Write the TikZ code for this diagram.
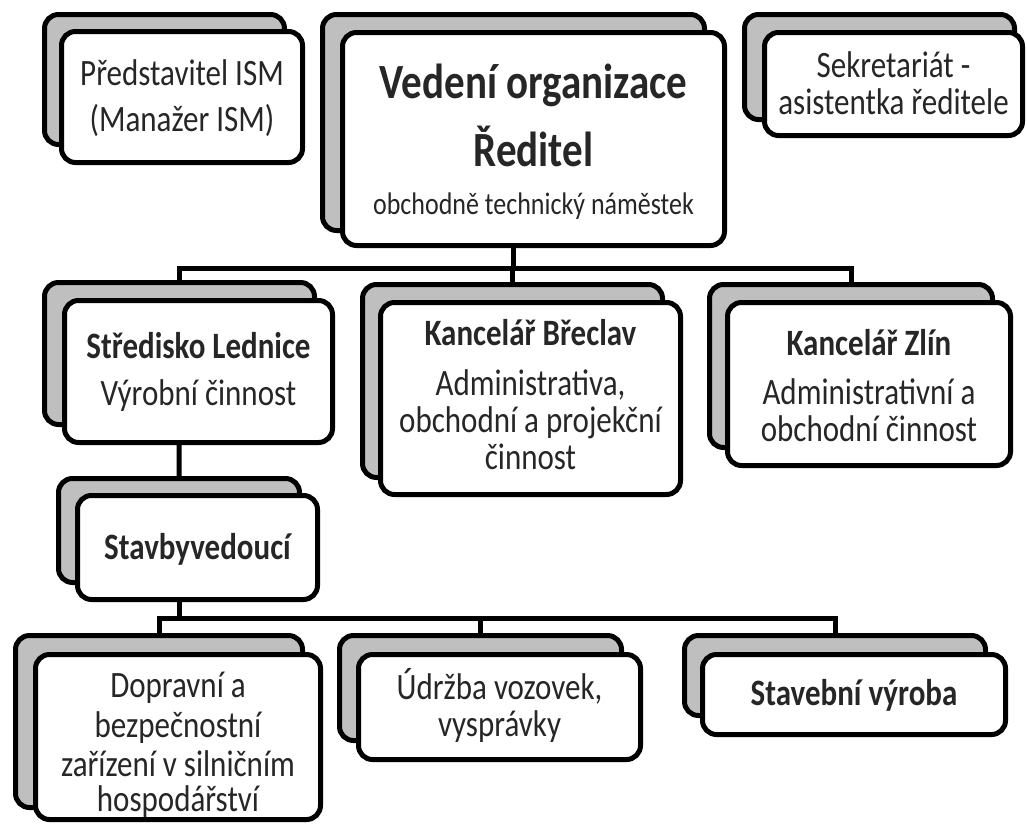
\documentclass[tikz,border=0pt]{standalone}
\usepackage{fontspec}
\usepackage{graphicx}
\setmainfont{Carlito}
\usetikzlibrary{fit,calc}
\definecolor{shadowgray}{HTML}{BFBFBF}
\definecolor{ink}{HTML}{262626}
\pgfdeclarelayer{bg}
\pgfsetlayers{bg,main}
\newcommand\vst[1]{\scalebox{1}[1.2]{#1}}
\begin{document}
\begin{tikzpicture}[x=1pt,y=-1pt,
  shad/.style={draw=black,line width=5pt,rounded corners=14pt,fill=shadowgray,inner sep=0pt},
  front/.style={draw=black,line width=5pt,rounded corners=14pt,fill=white,inner sep=0pt},
  ln/.style={anchor=base,text=ink,inner sep=0pt,font=\fontsize{31}{37}\selectfont},
  lnb/.style={ln,font=\fontsize{31}{37}\selectfont\bfseries},
  lnbig/.style={ln,font=\fontsize{41}{48}\selectfont\bfseries},
  lnsmall/.style={ln,font=\fontsize{26}{31}\selectfont},
  conn/.style={draw=black,line width=5pt}]
\useasboundingbox (0,0) rectangle (1027,825);

% Predstavitel ISM
\node[shad,fit={(44.5,14.5) (284.5,144.5)}] (ispS) {};
\node[front,fit={(61.5,31.5) (302.5,162.5)}] (ispF) {};
\node[ln] (ispT1) at (ispF.center |- 0,85) {\vst{Představitel ISM}};
\node[ln] (ispT2) at (ispF.center |- 0,131) {\vst{(Manažer ISM)}};

% Vedeni organizace
\node[shad,fit={(322.5,14.5) (704.5,230.5)}] (vedS) {};
\node[front,fit={(342.5,32.5) (724.5,245.5)}] (vedF) {};
\node[lnbig] (vedT1) at (vedF.center |- 0,98) {\vst{Vedení organizace}};
\node[lnbig] (vedT2) at (vedF.center |- 0,166) {\vst{Ředitel}};
\node[lnsmall] (vedT3) at (vedF.center |- 0,214) {\vst{obchodně technický náměstek}};

% Sekretariat
\node[shad,fit={(744.5,14.5) (1014.5,119.5)}] (sekS) {};
\node[front,fit={(764.5,32.5) (1022.5,135.5)}] (sekF) {};
\node[ln] (sekT1) at (sekF.center |- 0,77) {\vst{Sekretariát -}};
\node[ln] (sekT2) at (sekF.center |- 0,114) {\vst{asistentka ředitele}};

% Stredisko Lednice
\node[shad,fit={(44.5,282.5) (314.5,424.5)}] (ledS) {};
\node[front,fit={(64.5,300.5) (332.5,442.5)}] (ledF) {};
\node[lnb] (ledT1) at (ledF.center |- 0,358) {\vst{Středisko Lednice}};
\node[ln] (ledT2) at (ledF.center |- 0,405) {\vst{Výrobní činnost}};

% Kancelar Breclav
\node[shad,fit={(362.5,284.5) (662.5,477.5)}] (brcS) {};
\node[front,fit={(380.5,302.5) (680.5,494.5)}] (brcF) {};
\node[lnb] (brcT1) at (brcF.center |- 0,345) {\vst{Kancelář Břeclav}};
\node[ln] (brcT2) at (brcF.center |- 0,395) {\vst{Administrativa,}};
\node[ln] (brcT3) at (brcF.center |- 0,432) {\vst{obchodní a projekční}};
\node[ln] (brcT4) at (brcF.center |- 0,469) {\vst{činnost}};

% Kancelar Zlin
\node[shad,fit={(709.5,284.5) (992.5,447.5)}] (zliS) {};
\node[front,fit={(727.5,302.5) (1010.5,465.5)}] (zliF) {};
\node[lnb] (zliT1) at (zliF.center |- 0,355) {\vst{Kancelář Zlín}};
\node[ln] (zliT2) at (zliF.center |- 0,404) {\vst{Administrativní a}};
\node[ln] (zliT3) at (zliF.center |- 0,441) {\vst{obchodní činnost}};

% Stavbyvedouci
\node[shad,fit={(58.5,478.5) (299.5,582.5)}] (stvS) {};
\node[front,fit={(77.5,495.5) (317.5,599.5)}] (stvF) {};
\node[lnb] (stvT1) at (stvF.center |- 0,559) {\vst{Stavbyvedoucí}};

% Dopravni
\node[shad,fit={(15.5,635.5) (302.5,807.5)}] (dopS) {};
\node[front,fit={(35.5,654.5) (320.5,819.5)}] (dopF) {};
\node[ln] (dopT1) at (dopF.center |- 0,697) {\vst{Dopravní a}};
\node[ln] (dopT2) at (dopF.center |- 0,737) {\vst{bezpečnostní}};
\node[ln] (dopT3) at (dopF.center |- 0,776) {\vst{zařízení v silničním}};
\node[ln] (dopT4) at (dopF.center |- 0,811) {\vst{hospodářství}};

% Udrzba
\node[shad,fit={(339.5,635.5) (621.5,740.5)}] (udrS) {};
\node[front,fit={(358.5,654.5) (640.5,759.5)}] (udrF) {};
\node[ln] (udrT1) at (udrF.center |- 0,699) {\vst{Údržba vozovek,}};
\node[ln] (udrT2) at (udrF.center |- 0,736) {\vst{vysprávky}};

% Stavebni vyroba
\node[shad,fit={(684.5,635.5) (985.5,715.5)}] (stavS) {};
\node[front,fit={(702.5,654.5) (1005.5,734.5)}] (stavF) {};
\node[lnb] (stavT1) at (stavF.center |- 0,705) {\vst{Stavební výroba}};

% connectors
\coordinate (bus1) at (0,268);
\coordinate (bus2) at (0,618);
\begin{pgfonlayer}{bg}
\draw[conn] (vedS.center) -- (vedS.center |- bus1);
\draw[conn] (ledS.north) |- (bus1 -| zliS.north) -- (zliS.north);
\draw[conn] (brcS.north) -- (brcS.north |- bus1);
\draw[conn] (ledS.center) -- (stvS.north);
\draw[conn] (stvS.center) -- (stvS.center |- bus2);
\draw[conn] (dopS.north) |- (bus2 -| stavS.north) -- (stavS.north);
\draw[conn] (udrS.north) -- (udrS.north |- bus2);
\end{pgfonlayer}
\end{tikzpicture}
\end{document}
